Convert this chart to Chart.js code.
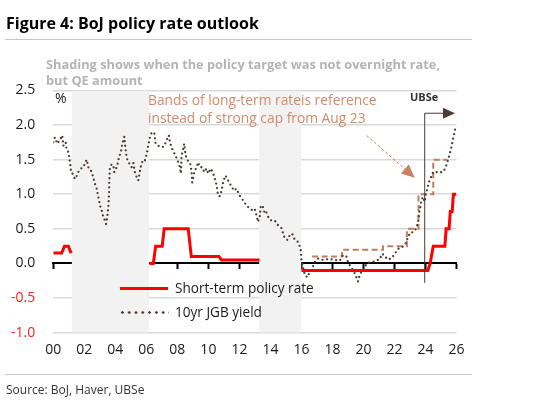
<!DOCTYPE html>
<html>
<head>
<meta charset="utf-8">
<script src="https://cdn.jsdelivr.net/npm/chart.js@4.4.1/dist/chart.umd.min.js"></script>
<style>
  html, body { margin:0; padding:0; background:#fff; }
  body { width:536px; height:410px; position:relative; overflow:hidden; font-family:'Open Sans', sans-serif; }
  #c { position:absolute; left:0; top:0; }
  .t { position:absolute; white-space:nowrap; height:20px; line-height:20px; }
  .hr { position:absolute; left:5px; width:467px; height:1px; background:#c8c8c8; }
</style>
</head>
<body>
<canvas id="c" width="536" height="410"></canvas>
<div class="t" style="left:6px;top:13px;font-size:16px;font-weight:700;color:#000;">Figure 4: BoJ policy rate outlook</div>
<div class="hr" style="top:39px;"></div>
<div class="t" style="left:46px;top:54px;font-size:12.8px;font-weight:700;color:#b4b4b4;">Shading shows when the policy target was not overnight rate,</div>
<div class="t" style="left:46px;top:70px;font-size:12.8px;font-weight:700;color:#b4b4b4;">but QE amount</div>
<div class="t" style="left:55px;top:88px;font-size:14px;color:#1a1a1a;">%</div>
<div class="t" style="left:148px;top:90px;font-size:13.8px;color:#d4896b;">Bands of long-term rateis reference</div>
<div class="t" style="left:148px;top:108px;font-size:13.8px;color:#d4896b;">instead of strong cap from Aug 23</div>
<div class="t" style="left:410px;top:87px;font-size:11px;font-weight:700;color:#333;">UBSe</div>
<div style="position:absolute;left:120px;top:286.5px;width:48px;height:3px;background:#ff0000;"></div>
<div style="position:absolute;left:119px;top:310.5px;width:50px;height:3px;background-image:radial-gradient(circle, #4b3b32 1.1px, rgba(0,0,0,0) 1.5px);background-size:6.8px 3px;"></div>
<div class="t" style="left:175px;top:278px;font-size:13.6px;color:#1a1a1a;">Short-term policy rate</div>
<div class="t" style="left:175px;top:302px;font-size:13.6px;color:#1a1a1a;">10yr JGB yield</div>
<div class="hr" style="top:374px;"></div>
<div class="t" style="left:6px;top:380px;font-size:12px;color:#333;">Source: BoJ, Haver, UBSe</div>

<script>
// ---------- data ----------
const xTickLabels = ['00','02','04','06','08','10','12','14','16','18','20','22','24','26'];
const yTicks = [-1.0, -0.5, 0.0, 0.5, 1.0, 1.5, 2.0, 2.5];

// Short-term policy rate (null breaks the line during QE-target periods)
const policyYears = [2000.0, 2000.54, 2000.72, 2000.97, 2001.15, 2001.5,
  2006.2, 2006.45, 2006.6, 2007.02, 2007.15, 2008.7, 2008.8, 2008.9, 2010.68, 2010.85, 2013.3, 2014.0,
  2016.0, 2024.15, 2024.3, 2024.5, 2025.25, 2025.33, 2025.52, 2025.6, 2025.72, 2025.8, 2026.0];
const policyRate = [0.15, 0.15, 0.25, 0.25, 0.15, null,
  0.0, 0.0, 0.25, 0.25, 0.5, 0.5, 0.3, 0.1, 0.1, 0.05, 0.05, null,
  -0.1, -0.1, 0.0, 0.25, 0.25, 0.5, 0.5, 0.75, 0.75, 1.0, 1.0];

// 10yr JGB yield
const jgbYears = [2000.0,2000.1,2000.26,2000.43,2000.58,2000.65,2000.8,2000.86,2000.97,2001.08,2001.14,2001.23,2001.4,2001.5,2001.61,2001.78,2001.93,2002.04,2002.15,2002.26,2002.43,2002.54,2002.69,2002.8,2002.9,2003.01,2003.12,2003.22,2003.33,2003.4,2003.48,2003.55,2003.59,2003.61,2003.65,2003.76,2003.87,2003.93,2004.02,2004.15,2004.23,2004.36,2004.45,2004.58,2004.62,2004.73,2004.83,2004.94,2005.05,2005.16,2005.26,2005.37,2005.48,2005.59,2005.69,2005.8,2005.91,2006.02,2006.12,2006.23,2006.34,2006.51,2006.6,2006.77,2006.98,2007.15,2007.3,2007.45,2007.52,2007.63,2007.74,2007.84,
  2008.01,2008.16,2008.23,2008.27,2008.38,2008.44,2008.53,2008.66,2008.81,2008.91,2008.96,2009.09,2009.24,2009.34,2009.45,2009.6,2009.73,2009.88,2009.99,2010.16,2010.31,2010.42,2010.53,2010.63,2010.74,2010.85,2010.95,2011.1,2011.27,2011.44,2011.66,2011.81,2012.02,2012.24,2012.45,2012.67,2012.82,2012.99,2013.1,2013.2,2013.31,2013.38,2013.53,2013.64,2013.74,2013.9,2014.06,2014.28,2014.5,2014.71,2014.93,2015.1,2015.25,2015.4,2015.53,2015.68,2015.83,2015.96,
  2016.0,2016.1,2016.22,2016.39,2016.54,2016.69,2016.86,2017.07,2017.29,2017.5,2017.68,2017.9,2018.15,2018.47,2018.69,2018.9,2019.0,2019.18,2019.39,2019.54,2019.65,2019.76,2019.91,2020.08,2020.19,2020.34,2020.51,2020.73,2021.05,2021.2,2021.33,2021.54,2021.8,
  2022.02,2022.23,2022.51,2022.65,2022.76,2022.87,2022.98,2023.08,2023.24,2023.41,2023.52,2023.58,2023.67,2023.73,2023.84,2023.95,2024.01,2024.1,2024.23,2024.31,2024.44,2024.59,2024.87,2025.17,2025.3,2025.45,2025.56,2025.67,2025.78,2025.88,2025.95];
const jgbYield = [1.75,1.82,1.73,1.78,1.85,1.70,1.75,1.64,1.61,1.46,1.32,1.30,1.22,1.26,1.32,1.37,1.39,1.44,1.50,1.39,1.34,1.27,1.15,1.08,0.96,0.84,0.77,0.67,0.62,0.57,0.67,0.82,0.98,1.18,1.39,1.43,1.42,1.32,1.35,1.44,1.53,1.61,1.73,1.83,1.73,1.53,1.46,1.44,1.39,1.45,1.32,1.25,1.20,1.34,1.44,1.50,1.49,1.58,1.70,1.82,1.89,1.89,1.73,1.70,1.68,1.69,1.78,1.85,1.75,1.68,1.61,1.58,
  1.49,1.39,1.30,1.56,1.66,1.73,1.56,1.49,1.46,1.34,1.17,1.32,1.39,1.46,1.39,1.39,1.32,1.37,1.30,1.37,1.30,1.22,1.13,0.98,0.97,1.05,1.17,1.27,1.20,1.13,1.05,1.08,0.98,0.91,0.84,0.79,0.77,0.79,0.70,0.60,0.67,0.84,0.81,0.72,0.74,0.65,0.62,0.62,0.55,0.51,0.36,0.34,0.41,0.43,0.36,0.34,0.29,0.19,
  0.05,-0.05,-0.17,-0.20,-0.12,-0.07,0.02,0.07,0.05,0.06,0.06,0.06,0.05,0.04,0.12,0.10,0.02,-0.05,-0.12,-0.20,-0.26,-0.17,-0.10,-0.07,0.00,0.01,0.02,0.03,0.06,0.14,0.12,0.06,0.07,
  0.14,0.21,0.24,0.26,0.31,0.38,0.43,0.43,0.48,0.50,0.60,0.72,0.82,0.91,0.96,0.89,1.01,1.06,1.18,1.22,1.30,1.33,1.31,1.33,1.39,1.49,1.58,1.68,1.80,1.90,1.98];

// Upper band of long-term rate (step changes)
const bandYears = [2016.69, 2018.62, 2021.26, 2022.8, 2023.55, 2024.5, 2025.42];
const bandTop   = [0.1, 0.2, 0.25, 0.5, 1.0, 1.5, 1.5];

// Periods when the policy target was QE amount
const shadeStart = [2001.18, 2013.27];
const shadeEnd   = [2006.17, 2016.0];

// Annotation anchors (data units)
const forecastStart = 2023.95, forecastArrowEnd = 2025.9, forecastLevel = 2.17, forecastBottom = -0.28;
const noteArrowFrom = [2020.2, 1.85], noteArrowTo = [2023.3, 1.24];

// ---------- build ----------
const zip = (xs, ys) => xs.map((x, i) => ({ x, y: ys[i] }));
const shadeSets = shadeStart.map((s, i) => ({
  data: [{ x: s, y: 2.5 }, { x: shadeEnd[i], y: 2.5 }],
  borderColor: 'rgba(0,0,0,0)', borderWidth: 0, backgroundColor: '#f2f2f2',
  fill: 'start', pointRadius: 0, order: 10, xAxisID: 'x', yAxisID: 'y'
}));

const arrowPlugin = {
  id: 'arrows',
  afterDatasetsDraw(chart) {
    const { ctx } = chart; const x = chart.scales.x, y = chart.scales.y;
    ctx.save();
    // forecast marker
    const vx = x.getPixelForValue(forecastStart);
    const vt = y.getPixelForValue(forecastLevel);
    const vb = y.getPixelForValue(forecastBottom);
    const tip = x.getPixelForValue(forecastArrowEnd);
    ctx.strokeStyle = '#4b3b32'; ctx.fillStyle = '#4b3b32'; ctx.lineWidth = 1;
    ctx.beginPath(); ctx.moveTo(vx, vb); ctx.lineTo(vx, vt); ctx.lineTo(tip - 11, vt); ctx.stroke();
    ctx.beginPath(); ctx.moveTo(tip, vt); ctx.lineTo(tip - 12, vt - 5.5); ctx.lineTo(tip - 12, vt + 5.5); ctx.closePath(); ctx.fill();
    // note arrow
    const ax = x.getPixelForValue(noteArrowFrom[0]), ay = y.getPixelForValue(noteArrowFrom[1]);
    const bx = x.getPixelForValue(noteArrowTo[0]), by = y.getPixelForValue(noteArrowTo[1]);
    const ang = Math.atan2(by - ay, bx - ax), L = 13, W = 6;
    const hx = bx - L * Math.cos(ang), hy = by - L * Math.sin(ang);
    ctx.strokeStyle = '#c8805f'; ctx.fillStyle = '#c8805f'; ctx.setLineDash([3, 2]);
    ctx.beginPath(); ctx.moveTo(ax, ay); ctx.lineTo(hx, hy); ctx.stroke();
    ctx.setLineDash([]);
    ctx.beginPath(); ctx.moveTo(bx, by);
    ctx.lineTo(hx + W * Math.sin(ang), hy - W * Math.cos(ang));
    ctx.lineTo(hx - W * Math.sin(ang), hy + W * Math.cos(ang));
    ctx.closePath(); ctx.fill();
    ctx.restore();
  }
};

const tickFont = { family: "'Open Sans', sans-serif", size: 14 };
new Chart(document.getElementById('c'), {
  type: 'line',
  data: {
    datasets: [
      { label: 'Short-term policy rate', data: zip(policyYears, policyRate), borderColor: '#ff0000', borderWidth: 3,
        pointRadius: 0, fill: false, spanGaps: false, order: 1, xAxisID: 'x', yAxisID: 'y' },
      { label: '10yr JGB yield', data: zip(jgbYears, jgbYield), borderColor: '#4b3b32', borderWidth: 2.3,
        borderDash: [0, 4.6], borderCapStyle: 'round', pointRadius: 0, fill: false, order: 2, xAxisID: 'x', yAxisID: 'y' },
      { label: 'Band', data: zip(bandYears, bandTop), borderColor: '#c47c5e', borderWidth: 2, borderDash: [6, 3.5],
        stepped: true, pointRadius: 0, fill: false, order: 3, xAxisID: 'x', yAxisID: 'y' },
      ...shadeSets
    ]
  },
  options: {
    responsive: false, animation: false, devicePixelRatio: 1,
    layout: { padding: { left: 0, top: 90.4, right: 79.5, bottom: 47.3 } },
    plugins: { legend: { display: false }, tooltip: { enabled: false } },
    scales: {
      x: {
        type: 'linear', min: 2000, max: 2026, position: 'bottom',
        afterBuildTicks: s => { s.ticks = xTickLabels.map((_, i) => ({ value: 2000 + 2 * i })); },
        ticks: { callback: (v, i) => xTickLabels[i], color: '#1a1a1a', font: tickFont, padding: 9, maxRotation: 0, autoSkip: false },
        grid: { display: false, drawTicks: false }, border: { display: false },
        afterFit: s => { s.height = 30; }
      },
      xt: {
        type: 'linear', axis: 'x', position: { y: 0 }, min: 2000, max: 2026,
        afterBuildTicks: s => { s.ticks = xTickLabels.map((_, i) => ({ value: 2000 + 2 * i })); },
        ticks: { display: false },
        grid: { drawOnChartArea: false, drawTicks: true, tickLength: 5, tickWidth: 2, tickColor: '#000' },
        border: { display: true, color: '#000', width: 2 }, z: 1
      },
      y: {
        type: 'linear', min: -1, max: 2.5,
        afterBuildTicks: s => { s.ticks = yTicks.map(v => ({ value: v })); },
        ticks: { callback: v => v.toFixed(1), color: c => c.tick.value < 0 ? '#ff2020' : '#1a1a1a', font: tickFont, padding: 18 },
        grid: { color: c => c.tick.value === 0 ? 'rgba(0,0,0,0)' : '#d9d9d9', lineWidth: 1.5, drawTicks: false },
        border: { display: false },
        afterFit: s => { s.width = 53.3; }
      }
    }
  },
  plugins: [arrowPlugin]
});
</script>
</body>
</html>
